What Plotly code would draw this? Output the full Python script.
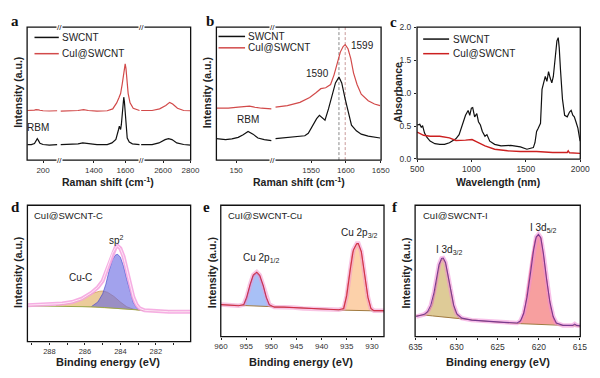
import plotly.graph_objects as go

W, H = 600, 378
FONT = "Liberation Sans, Arial, sans-serif"
SERIF = "Liberation Serif, Times New Roman, serif"

# ---------------- data ----------------
# (a) Raman, broken axis: RBM window, G window, 2D window
a_rbm_x = [100, 125, 145, 155, 163, 171, 180, 200, 240, 290]
a_sw_rbm = [11.7, 11.6, 12.5, 14.5, 16.1, 14.6, 12.6, 11.7, 11.2, 11.7]
a_cu_rbm = [37.3, 37.3, 37.6, 37.9, 38.0, 37.8, 37.5, 37.1, 36.9, 37.1]
a_g_x_sw = [1190, 1260, 1300, 1330, 1360, 1420, 1485, 1515, 1540, 1550, 1557, 1562, 1566, 1570,
            1575, 1580, 1586, 1590, 1594, 1599, 1605, 1612, 1625, 1645, 1690]
a_sw_g = [11.7, 11.7, 12.2, 12.9, 12.4, 11.7, 11.7, 12.9, 15.5, 19.0, 23.0, 25.5, 24.5, 23.0,
          27.0, 36.0, 45.0, 47.3, 44.0, 34.0, 23.0, 16.5, 13.5, 12.2, 11.7]
a_g_x_cu = [1190, 1260, 1300, 1335, 1365, 1420, 1485, 1520, 1545, 1560, 1570, 1580, 1588, 1594,
            1599, 1604, 1610, 1618, 1630, 1650, 1690]
a_cu_g = [36.8, 36.8, 37.3, 38.0, 37.3, 36.8, 37.1, 38.5, 43.0, 47.0, 50.0, 57.0, 64.0, 69.5,
          72.4, 69.0, 60.0, 50.0, 43.0, 39.0, 37.3]
a_2d_x_sw = [2440, 2520, 2570, 2615, 2640, 2665, 2700, 2750, 2800]
a_sw_2d = [11.7, 11.7, 12.9, 15.4, 16.1, 15.4, 12.9, 11.7, 11.2]
a_2d_x_cu = [2440, 2520, 2575, 2620, 2648, 2670, 2705, 2750, 2800]
a_cu_2d = [37.3, 37.3, 38.5, 41.0, 43.4, 42.2, 39.0, 37.3, 37.1]

# (b) Raman zoom: RBM window and G window
b_rbm_x_sw = [122, 135, 144, 153, 160, 167, 174, 181, 190, 200]
b_sw_rbm = [16.1, 15.4, 15.9, 17.1, 19.0, 21.5, 19.5, 16.6, 15.4, 14.6]
b_rbm_x_cu = [122, 139, 153, 162, 169, 176, 186, 200]
b_cu_rbm = [39.0, 39.0, 39.8, 40.5, 40.5, 39.8, 39.0, 38.5]
b_g_x_sw = [1499, 1511, 1525, 1534, 1541, 1546, 1550, 1555, 1558, 1562, 1567, 1570, 1575, 1581,
            1585, 1590, 1594, 1599, 1604, 1608, 1615, 1622, 1632, 1641, 1649]
b_sw_g = [16.1, 16.6, 17.1, 17.6, 18.3, 20.2, 23.9, 27.6, 31.2, 33.7, 31.2, 30.0, 38.5, 50.7,
          58.0, 62.4, 58.0, 45.9, 33.7, 26.3, 22.0, 19.5, 18.0, 17.1, 16.6]
b_g_x_cu = [1499, 1516, 1534, 1548, 1557, 1564, 1571, 1578, 1583, 1588, 1592, 1596, 1599, 1603,
            1607, 1611, 1616, 1622, 1632, 1641, 1649]
b_cu_g = [39.8, 41.0, 43.4, 47.1, 50.7, 53.7, 54.4, 56.8, 64.1, 73.9, 81.2, 85.4, 86.8, 83.7,
          76.3, 65.4, 56.8, 49.5, 44.6, 42.2, 41.0]
b_peak_marks = [1590, 1599]
b_peak_labels = ["1590", "1599"]

# (c) absorbance
c_x_sw = [500, 524, 539, 550, 568, 589, 619, 663, 708, 752, 797, 856, 886, 916, 945, 969, 984,
          999, 1011, 1029, 1049, 1064, 1082, 1100, 1124, 1142, 1168, 1213, 1272, 1361, 1450, 1510,
          1569, 1584, 1599, 1614, 1635, 1649, 1664, 1679, 1694, 1709, 1724, 1739, 1753, 1771, 1786,
          1798, 1807, 1819, 1837, 1857, 1881, 1902, 1917, 1932, 1946, 1961, 1979, 1994, 2000]
c_sw = [0.516, 0.526, 0.477, 0.506, 0.393, 0.329, 0.270, 0.231, 0.221, 0.221, 0.246, 0.305, 0.369,
        0.516, 0.663, 0.737, 0.663, 0.771, 0.781, 0.639, 0.688, 0.565, 0.516, 0.418, 0.344, 0.369,
        0.270, 0.221, 0.197, 0.206, 0.182, 0.147, 0.172, 0.246, 0.418, 0.467, 0.541, 1.057, 1.155,
        1.253, 1.179, 1.327, 1.229, 1.155, 1.253, 1.499, 1.794, 1.843, 1.695, 1.351, 0.909, 0.663,
        0.639, 0.713, 0.737, 0.663, 0.639, 0.565, 0.467, 0.319, 0.270]
c_x_cu = [500, 559, 619, 708, 797, 856, 945, 1005, 1049, 1124, 1213, 1332, 1450, 1599, 1747, 1881,
          1890, 1902, 2000]
c_cu = [0.408, 0.359, 0.344, 0.344, 0.319, 0.280, 0.285, 0.295, 0.260, 0.197, 0.147, 0.123, 0.113,
        0.113, 0.098, 0.098, 0.123, 0.093, 0.084]

# (d) XPS C 1s
d_env_x = [289.24, 288.18, 287.27, 286.73, 286.18, 285.64, 285.27, 285.0, 284.82, 284.64, 284.45,
           284.27, 284.15, 284.0, 283.82, 283.64, 283.45, 283.27, 283.09, 282.91, 282.64, 282.18,
           281.27, 280.04]
d_env = [26.7, 27.1, 27.9, 29.0, 31.4, 35.7, 39.8, 44.5, 50.5, 57.6, 64.8, 69.0, 70.2, 68.3, 62.4,
         52.9, 41.0, 32.6, 27.1, 24.3, 22.9, 22.4, 21.9, 21.9]
d_base_x = [289.24, 286.73, 285.64, 284.91, 284.18, 283.45, 282.91, 282.18, 280.04]
d_base = [26.2, 26.0, 25.5, 25.0, 24.3, 23.6, 22.9, 22.4, 21.9]
d_sp2_x = [285.64, 285.27, 285.0, 284.82, 284.64, 284.45, 284.27, 284.15, 284.0, 283.82, 283.64,
           283.45, 283.27, 283.09, 282.91]
d_sp2 = [25.6, 29.0, 35.0, 42.1, 51.7, 60.0, 63.6, 64.0, 61.9, 55.2, 45.7, 36.2, 28.6, 24.8, 23.1]
d_cuc_x = [287.64, 287.09, 286.55, 286.0, 285.55, 285.18, 285.0, 284.73, 284.36, 284.0, 283.64,
           283.27, 282.91]
d_cuc = [26.4, 27.6, 29.5, 32.6, 35.5, 36.9, 37.1, 36.2, 33.1, 29.0, 25.5, 23.8, 22.9]

# (e) XPS Cu 2p
e_env_x = [960.0, 958.4, 956.5, 955.5, 954.9, 954.2, 953.6, 952.9, 952.3, 951.6, 951.0, 950.4,
           949.4, 947.5, 945.6, 943.7, 941.7, 939.2, 936.6, 935.6, 935.0, 934.3, 933.7, 933.0,
           932.7, 932.1, 931.5, 930.8, 930.2, 929.6, 927.4]
e_env = [24.4, 24.2, 23.5, 24.4, 30.1, 40.0, 46.9, 49.1, 46.7, 38.8, 30.1, 24.4, 22.5, 22.5, 22.2,
         21.5, 21.2, 21.0, 20.5, 21.5, 31.4, 51.1, 65.9, 70.9, 70.9, 64.7, 48.6, 30.1, 21.5, 19.8, 19.8]
e_base_x = [960.0, 955.2, 949.7, 945.6, 936.0, 929.9, 927.4]
e_base = [24.4, 23.7, 22.7, 22.2, 20.2, 19.5, 19.5]
e_p12_x = [955.5, 954.9, 954.2, 953.6, 952.9, 952.3, 951.6, 951.0, 950.4, 949.7]
e_p12 = [23.7, 28.9, 39.3, 46.2, 48.4, 45.9, 38.3, 29.4, 24.0, 22.7]
e_p32_x = [935.8, 935.2, 934.5, 933.9, 933.2, 932.7, 932.1, 931.5, 930.8, 930.2, 929.7]
e_p32 = [20.2, 28.9, 47.4, 63.5, 70.1, 70.4, 64.2, 48.1, 30.1, 21.5, 19.5]

# (f) XPS I 3d
f_env_x = [634.92, 634.33, 633.93, 633.53, 633.13, 632.74, 632.42, 632.14, 631.83, 631.63, 631.35,
           631.03, 630.71, 630.36, 629.96, 629.37, 628.17, 626.19, 624.21, 622.62, 622.22, 621.83,
           621.43, 621.03, 620.63, 620.32, 620.04, 619.76, 619.44, 619.05, 618.65, 618.25, 617.86,
           617.06, 615.87, 615.63, 615.40, 614.88]
f_env = [15.3, 16.5, 17.0, 19.0, 24.0, 33.8, 46.2, 54.8, 59.5, 59.8, 56.5, 46.2, 33.8, 24.0, 17.3,
         14.1, 12.6, 11.6, 10.9, 10.4, 12.1, 17.8, 30.1, 47.4, 65.9, 75.8, 77.8, 75.3, 63.5, 43.7,
         26.4, 15.3, 10.4, 8.6, 8.6, 9.6, 8.6, 8.1]
f_base_x = [634.92, 633.93, 632.94, 629.76, 626.19, 622.22, 618.25, 614.88]
f_base = [16.0, 16.5, 15.8, 13.6, 11.6, 9.9, 8.9, 8.1]
f_d32_x = [633.93, 633.33, 632.94, 632.54, 632.22, 631.94, 631.67, 631.35, 631.03, 630.63, 630.24,
           629.76, 629.37]
f_d32 = [16.5, 19.5, 24.4, 36.8, 49.9, 57.3, 59.0, 56.0, 46.2, 31.4, 20.2, 14.6, 13.3]
f_d52_x = [622.42, 622.02, 621.63, 621.23, 620.83, 620.44, 620.04, 619.72, 619.37, 618.97, 618.57,
           618.17, 617.78]
f_d52 = [9.9, 14.1, 24.0, 41.2, 61.0, 73.8, 77.5, 75.1, 61.0, 41.2, 22.7, 12.8, 9.1]

BLACK = "#111111"
RED_A = "#d24a4a"
RED_C = "#cc2020"

# ---------------- helpers ----------------
def px(p):
    return p / W


def py(p):
    return 1 - p / H


fig = go.Figure()


def line(x, y, xa, ya, color, width=1.2, dash=None, fill=None, fillcolor=None):
    fig.add_trace(go.Scatter(
        x=x, y=y, xaxis=xa, yaxis=ya, mode="lines",
        line=dict(color=color, width=width, dash=dash),
        fill=fill, fillcolor=fillcolor,
        showlegend=False, hoverinfo="skip"))


def xaxis(dom, rng, tickvals, anchor, minor=None, size=8):
    d = dict(domain=[px(dom[0]), px(dom[1])], range=rng, anchor=anchor,
             tickmode="array", tickvals=tickvals, ticks="outside", ticklen=2, tickwidth=1,
             tickcolor="#222", showgrid=False, zeroline=False, showline=False,
             tickfont=dict(family=FONT, size=size, color="#333"), ticklabelstandoff=0)
    if minor is not None:
        d["minor"] = dict(tickvals=minor, ticks="outside", ticklen=2, tickcolor="#222")
    return d


def yaxis(dom, rng, anchor, **kw):
    d = dict(domain=[py(dom[1]), py(dom[0])], range=rng, anchor=anchor,
             showgrid=False, zeroline=False, showline=False, showticklabels=False, ticks="")
    d.update(kw)
    return d


# ---------------- panel (a) ----------------
A_Y = (22.7, 159.3)
line(a_rbm_x, a_sw_rbm, "x", "y", BLACK)
line(a_rbm_x, a_cu_rbm, "x", "y", RED_A)
line(a_g_x_sw, a_sw_g, "x2", "y", BLACK)
line(a_g_x_cu, a_cu_g, "x2", "y", RED_A)
line(a_2d_x_sw, a_sw_2d, "x3", "y", BLACK)
line(a_2d_x_cu, a_cu_2d, "x3", "y", RED_A)

# ---------------- panel (b) ----------------
line(b_rbm_x_sw, b_sw_rbm, "x4", "y2", BLACK)
line(b_rbm_x_cu, b_cu_rbm, "x4", "y2", RED_A)
line([b_peak_marks[0]] * 2, [0, 100], "x5", "y2", "#8a8a8a", 1.0, "3px,2px")
line([b_peak_marks[1]] * 2, [0, 100], "x5", "y2", "#c99a9a", 1.0, "3px,2px")
line(b_g_x_sw, b_sw_g, "x5", "y2", BLACK)
line(b_g_x_cu, b_cu_g, "x5", "y2", RED_A)

# ---------------- panel (c) ----------------
line(c_x_sw, c_sw, "x6", "y3", BLACK)
line(c_x_cu, c_cu, "x6", "y3", RED_C, 1.4)

# ---------------- panel (d) ----------------
line(d_cuc_x, d_cuc, "x7", "y4", "rgba(200,140,70,0.8)", 0.8, fill="toself",
     fillcolor="rgba(226,176,100,0.65)")
line(d_sp2_x, d_sp2, "x7", "y4", "rgba(70,70,200,0.8)", 0.8, fill="toself",
     fillcolor="rgba(100,100,225,0.6)")
line(d_base_x, d_base, "x7", "y4", "#9aa84a", 1.0)
line(d_env_x, d_env, "x7", "y4", "rgba(244,160,222,0.85)", 4.0)
line(d_env_x, d_env, "x7", "y4", "rgba(255,235,248,0.9)", 1.0)

# ---------------- panel (e) ----------------
line(e_p12_x, e_p12, "x8", "y5", "#3a58c8", 1.0, fill="toself", fillcolor="rgba(110,150,240,0.6)")
line(e_p32_x, e_p32, "x8", "y5", "#e07a30", 1.0, fill="toself", fillcolor="rgba(250,185,125,0.65)")
line(e_base_x, e_base, "x8", "y5", "#a07a40", 1.0)
line(e_env_x, e_env, "x8", "y5", "rgba(242,150,205,0.55)", 4.5)
line(e_env_x, e_env, "x8", "y5", "#d0304a", 1.1)

# ---------------- panel (f) ----------------
line(f_d32_x, f_d32, "x9", "y6", "#b08a40", 1.0, fill="toself", fillcolor="rgba(205,175,95,0.65)")
line(f_d52_x, f_d52, "x9", "y6", "#e05050", 1.0, fill="toself", fillcolor="rgba(242,95,95,0.6)")
line(f_base_x, f_base, "x9", "y6", "#a07a40", 1.0)
line(f_env_x, f_env, "x9", "y6", "rgba(242,140,215,0.55)", 4.5)
line(f_env_x, f_env, "x9", "y6", "#7a3a8e", 1.1)

# ---------------- axes ----------------
B_Y = A_Y
C_Y = (22.7, 158.3)
D_Y = (205.7, 345.7)
E_Y = (205.7, 340.7)

layout_axes = dict(
    xaxis=xaxis((20.7, 54), [98, 305], [200], "y"),
    xaxis2=xaxis((54, 138), [1182, 1700], [1400, 1600], "y"),
    xaxis3=xaxis((138, 189), [2440, 2801], [2600, 2800], "y"),
    yaxis=yaxis(A_Y, [0, 100], "x"),
    xaxis4=xaxis((215.5, 273.5), [122, 202], [150], "y2"),
    xaxis5=xaxis((273.5, 385), [1495, 1650.5], [1550, 1600, 1650], "y2"),
    yaxis2=yaxis(B_Y, [0, 100], "x4"),
    xaxis6=xaxis((422, 590), [499, 2001], [500, 1000, 1500, 2000], "y3", size=8.5),
    yaxis3=yaxis(C_Y, [-0.003, 2.003], "x6", showticklabels=True, ticks="outside", ticklen=2,
                 tickcolor="#222", tickmode="array", tickvals=[0, 0.5, 1.0, 1.5, 2.0],
                 ticktext=["0.0", "0.5", "1.0", "1.5", "2.0"],
                 tickfont=dict(family=FONT, size=8.5, color="#333"), ticklabelstandoff=1),
    xaxis7=xaxis((21, 189), [289.24, 280.04], [288, 286, 284, 282], "y4",
                 minor=[289, 287, 285, 283, 281], size=7.5),
    yaxis4=yaxis(D_Y, [0, 100], "x7"),
    xaxis8=xaxis((220, 388), [960.05, 927.6], [960, 955, 950, 945, 940, 935, 930], "y5", size=8),
    yaxis5=yaxis(E_Y, [0, 100], "x8"),
    xaxis9=xaxis((420, 590), [635.05, 614.95], [635, 630, 625, 620, 615], "y6",
                 minor=[632.5, 627.5, 622.5, 617.5], size=8.5),
    yaxis6=yaxis(E_Y, [0, 100], "x9"),
)

# ---------------- frames, breaks, legends ----------------
shapes = []
frames = [((20.7, 189), A_Y), ((215.5, 385), B_Y), ((422, 590), C_Y),
          ((21, 189), D_Y), ((220, 388), E_Y), ((420, 590), E_Y)]
for (x0, x1), (y0, y1) in frames:
    shapes.append(dict(type="rect", xref="paper", yref="paper", x0=px(x0), x1=px(x1),
                       y0=py(y1), y1=py(y0), line=dict(color="#111", width=1.3),
                       fillcolor="rgba(0,0,0,0)", layer="above"))

annotations = []


def text(x, y, s, size=10, xanchor="center", yanchor="middle", color="#222", bold=False,
         family=FONT, angle=0, bg=None):
    if bold:
        s = "<b>" + s + "</b>"
    a = dict(x=px(x), y=py(y), xref="paper", yref="paper", text=s, showarrow=False,
             xanchor=xanchor, yanchor=yanchor, font=dict(family=family, size=size, color=color),
             textangle=angle, borderpad=0)
    if bg:
        a["bgcolor"] = bg
    annotations.append(a)


# axis breaks
for bx in (54, 138):
    for by in A_Y:
        text(bx, by, "//", size=8, bg="white", color="#111")
for by in B_Y:
    text(273.5, by, "//", size=8, bg="white", color="#111")

# legends
legends = [((28.3, 53.3), (33.3, 50), RED_A), ((217.7, 245), (32.3, 44), RED_A),
           ((428.3, 455), (35, 50), RED_C)]
for (lx0, lx1), (ly1, ly2), rc in legends:
    shapes.append(dict(type="line", xref="paper", yref="paper", x0=px(lx0), x1=px(lx1),
                       y0=py(ly1), y1=py(ly1), line=dict(color=BLACK, width=1.5)))
    shapes.append(dict(type="line", xref="paper", yref="paper", x0=px(lx0), x1=px(lx1),
                       y0=py(ly2), y1=py(ly2), line=dict(color=rc, width=1.5)))
    text(lx1 + 2.5, ly1, "SWCNT", size=10, xanchor="left")
    text(lx1 + 2.5, ly2, "CuI@SWCNT", size=10, xanchor="left")

# panel letters
for (lx, ly, s) in [(8, 16, "a"), (209, 16, "b"), (398, 17, "c"),
                    (9, 208, "d"), (205, 208, "e"), (399, 208, "f")]:
    text(lx, ly, s, size=15, bold=True, family=SERIF, color="#111")

# axis titles
for (cx, s) in [(104, "Raman shift (cm<sup>-1</sup>)"), (300, "Raman shift (cm<sup>-1</sup>)"),
                (505, "Wavelength (nm)")]:
    text(cx, 181.5, s, size=10.5, bold=True)
for cx in (104, 303, 505):
    text(cx, 367, "Binding energy (eV)", size=11, bold=True)
for (cx, cy, s) in [(10.5, 90, "Intensity (a.u.)"), (205.5, 90, "Intensity (a.u.)"),
                    (401.5, 90, "Absorbance"), (11.5, 275, "Intensity (a.u.)"),
                    (210.5, 275, "Intensity (a.u.)"), (410.5, 275, "Intensity (a.u.)")]:
    text(cx, cy, s, size=10.5, bold=True, angle=-90)

# in-plot labels
text(32, 126, "RBM", size=10)
text(248, 118, "RBM", size=10)
text(320, 70, b_peak_labels[0], size=10)
text(366, 42, b_peak_labels[1], size=10)
text(26.7, 216.5, "CuI@SWCNT-C", size=9.5, xanchor="left")
text(113, 241.5, "sp<sup>2</sup>", size=10)
text(76, 280, "Cu-C", size=10)
text(226.7, 216.5, "CuI@SWCNT-Cu", size=9.5, xanchor="left")
text(262, 260, "Cu 2p<sub>1/2</sub>", size=10)
text(363, 234, "Cu 2p<sub>3/2</sub>", size=10)
text(426.7, 216.5, "CuI@SWCNT-I", size=9.5, xanchor="left")
text(455, 252, "I 3d<sub>3/2</sub>", size=10)
text(552, 229, "I 3d<sub>5/2</sub>", size=10)

fig.update_layout(
    width=W, height=H, margin=dict(l=0, r=0, t=0, b=0),
    paper_bgcolor="white", plot_bgcolor="rgba(0,0,0,0)",
    showlegend=False, shapes=shapes, annotations=annotations,
    font=dict(family=FONT),
    **layout_axes)

fig.write_html("out.html", config={"displayModeBar": False},
               post_script="document.body.style.margin='0px';document.body.style.padding='0px';")
